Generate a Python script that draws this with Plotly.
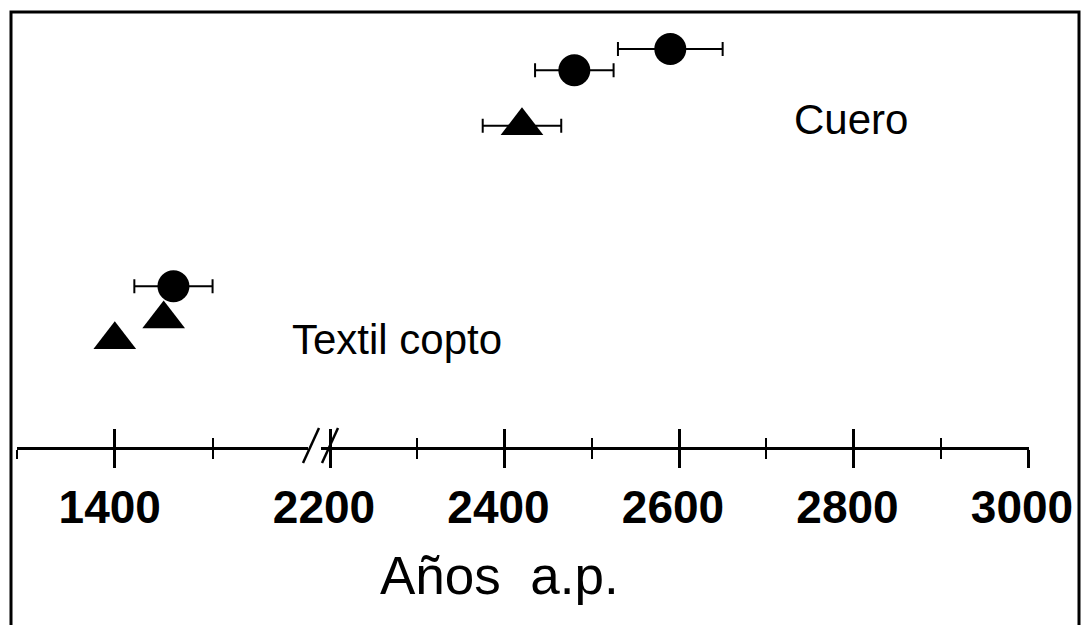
import plotly.graph_objects as go

# ---------------- data ----------------
textil_circle_x = [1460]
textil_circle_err = [40]
textil_circle_y = [4.02]

textil_tri_x = [1400, 1450]
textil_tri_y = [2.68, 3.2]

cuero_circle_x = [2480, 2590]
cuero_circle_err = [45, 60]
cuero_circle_y = [9.42, 9.95]

cuero_tri_x = [2420]
cuero_tri_err = [45]
cuero_tri_y = [8.03]

left_major_ticks = [1400]
left_minor_ticks = [1300, 1500]
right_major_ticks = [2200, 2400, 2600, 2800, 3000]
right_minor_ticks = [2300, 2500, 2700, 2900]

label_cuero = "Cuero"
label_textil = "Textil copto"
axis_title = "Años\u00a0 a.p."

# ---------------- layout constants ----------------
W, H = 1083, 625
PLOT_BOTTOM = 447          # pixel row of the axis line
LEFT_RANGE = [1299.5, 1598]
RIGHT_RANGE = [2190, 3001]
LEFT_DOMAIN = [16.5 / W, 308.4 / W]
RIGHT_DOMAIN = [321.3 / W, 1028.9 / W]
FONT = "Arial, Liberation Sans, Helvetica, sans-serif"


def px_x(p):
    return p / W


def px_y(p):
    return (PLOT_BOTTOM - p) / PLOT_BOTTOM


fig = go.Figure()

err_style = dict(type="data", color="black", thickness=2, width=7)

fig.add_trace(go.Scatter(
    x=textil_circle_x, y=textil_circle_y, xaxis="x", yaxis="y",
    mode="markers", marker=dict(symbol="circle", size=32, color="black"),
    error_x=dict(array=textil_circle_err, **err_style), cliponaxis=False,
    showlegend=False, hoverinfo="x"))
fig.add_trace(go.Scatter(
    x=textil_tri_x, y=textil_tri_y, xaxis="x", yaxis="y",
    mode="markers", marker=dict(symbol="triangle-up", size=37, color="black"),
    cliponaxis=False, showlegend=False, hoverinfo="x"))
fig.add_trace(go.Scatter(
    x=cuero_circle_x, y=cuero_circle_y, xaxis="x2", yaxis="y",
    mode="markers", marker=dict(symbol="circle", size=32, color="black"),
    error_x=dict(array=cuero_circle_err, **err_style), cliponaxis=False,
    showlegend=False, hoverinfo="x"))
fig.add_trace(go.Scatter(
    x=cuero_tri_x, y=cuero_tri_y, xaxis="x2", yaxis="y",
    mode="markers", marker=dict(symbol="triangle-up", size=37, color="black"),
    error_x=dict(array=cuero_tri_err, **err_style), cliponaxis=False,
    showlegend=False, hoverinfo="x"))
# empty traces so the upward-tick overlay axes exist
fig.add_trace(go.Scatter(x=[], y=[], xaxis="x3", yaxis="y", showlegend=False))
fig.add_trace(go.Scatter(x=[], y=[], xaxis="x4", yaxis="y", showlegend=False))

tickfont = dict(family=FONT, size=46, color="black", weight="bold")

common = dict(showgrid=False, zeroline=False, showline=True, linecolor="black",
              linewidth=3, anchor="y", fixedrange=True, automargin=False)

fig.update_layout(
    template="none",
    width=W, height=H,
    margin=dict(l=0, r=0, t=0, b=H - PLOT_BOTTOM, pad=0, autoexpand=False),
    paper_bgcolor="white", plot_bgcolor="white",
    showlegend=False,
    xaxis=dict(domain=LEFT_DOMAIN, range=LEFT_RANGE, tickmode="array",
               tickvals=left_major_ticks, ticks="outside", ticklen=18,
               tickwidth=2.5, tickcolor="black", tickfont=tickfont,
               ticklabelshift=-5,
               minor=dict(tickmode="array", tickvals=left_minor_ticks,
                          ticks="outside", ticklen=9, tickwidth=2,
                          tickcolor="black"),
               **common),
    xaxis3=dict(overlaying="x", range=LEFT_RANGE, tickmode="array",
                tickvals=left_major_ticks, ticks="inside", ticklen=18,
                tickwidth=2.5, tickcolor="black", showticklabels=False,
                minor=dict(tickmode="array", tickvals=left_minor_ticks,
                           ticks="inside", ticklen=9, tickwidth=2,
                           tickcolor="black"),
                **common),
    xaxis2=dict(domain=RIGHT_DOMAIN, range=RIGHT_RANGE, tickmode="array",
                tickvals=right_major_ticks, ticks="outside", ticklen=18,
                tickwidth=2.5, tickcolor="black", tickfont=tickfont,
                ticklabelshift=-6,
                minor=dict(tickmode="array", tickvals=right_minor_ticks,
                           ticks="outside", ticklen=9, tickwidth=2,
                           tickcolor="black"),
                **common),
    xaxis4=dict(overlaying="x2", range=RIGHT_RANGE, tickmode="array",
                tickvals=right_major_ticks, ticks="inside", ticklen=18,
                tickwidth=2.5, tickcolor="black", showticklabels=False,
                minor=dict(tickmode="array", tickvals=right_minor_ticks,
                           ticks="inside", ticklen=9, tickwidth=2,
                           tickcolor="black"),
                **common),
    yaxis=dict(domain=[0, 1], range=[0, PLOT_BOTTOM / 40.0], visible=False,
               fixedrange=True, automargin=False),
)

# labels
fig.add_annotation(x=2797, y=8.2, xref="x2", yref="y", text=label_cuero,
                   showarrow=False, font=dict(family=FONT, size=42, color="black"))
fig.add_annotation(x=2277, y=2.68, xref="x2", yref="y", text=label_textil,
                   showarrow=False, font=dict(family=FONT, size=42, color="black"))
fig.add_annotation(x=px_x(499), y=px_y(575), xref="paper", yref="paper",
                   text=axis_title, showarrow=False, xanchor="center",
                   yanchor="middle",
                   font=dict(family=FONT, size=53, color="black"))

# axis break marks
for x0, x1 in [(303, 319), (322, 338)]:
    fig.add_shape(type="line", xref="paper", yref="paper",
                  x0=px_x(x0), y0=px_y(463), x1=px_x(x1), y1=px_y(428),
                  line=dict(color="black", width=2.5))

# frame around the picture
fig.add_shape(type="rect", xref="paper", yref="paper",
              x0=px_x(11), y0=px_y(700), x1=px_x(1079), y1=px_y(12),
              line=dict(color="black", width=3), fillcolor="rgba(0,0,0,0)",
              layer="above")

fig.write_html("out.html")
